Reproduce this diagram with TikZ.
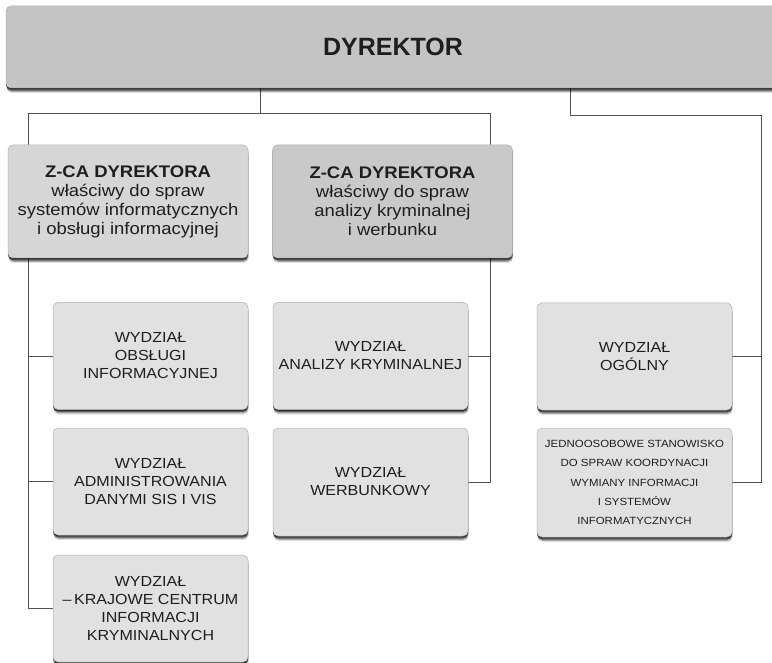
\documentclass[tikz,border=0pt]{standalone}
\usepackage{fontspec}
\setmainfont{Liberation Sans}
\newfontfamily\wf[FakeStretch=1.1]{Liberation Sans}
\usetikzlibrary{shadows,backgrounds}
\definecolor{dirfill}{HTML}{C4C4C4}
\definecolor{zafill}{HTML}{D6D6D6}
\definecolor{zbfill}{HTML}{C9C9C9}
\definecolor{wfill}{HTML}{E1E1E1}
\definecolor{bordc}{HTML}{B0B0B0}
\definecolor{linec}{HTML}{505050}
\definecolor{txt}{HTML}{1E1E1E}
\tikzset{
  box/.style={draw=bordc, rounded corners=5pt, line width=0.5pt, inner sep=0pt,
    align=center, text=txt,
    drop shadow={shadow xshift=0.6pt, shadow yshift=-5pt, opacity=0.12, fill=black},
    drop shadow={shadow xshift=0.4pt, shadow yshift=-3.8pt, opacity=0.25, fill=black},
    drop shadow={shadow xshift=0.2pt, shadow yshift=-2.6pt, opacity=0.45, fill=black},
    drop shadow={shadow xshift=0pt, shadow yshift=-1.4pt, opacity=0.5, fill=black}},
  dirbox/.style={box, fill=dirfill, minimum width=774pt, minimum height=82pt,
    font=\bfseries\fontsize{25}{28}\selectfont},
  zbox/.style={box, minimum width=240pt, minimum height=113pt,
    font=\wf\fontsize{16.8}{19}\selectfont},
  wbox/.style={box, fill=wfill, minimum width=195pt, minimum height=107pt,
    font=\wf\fontsize{14.6}{18}\selectfont},
  sbox/.style={box, fill=wfill, minimum width=195pt, minimum height=109pt,
    font=\wf\fontsize{10.4}{19.2}\selectfont},
  conn/.style={draw=linec, line width=0.9pt}
}
\begin{document}
\begin{tikzpicture}[x=1pt,y=-1pt]
\clip (0,0) rectangle (772,663);
\node[dirbox] (dir) at (393,47) {DYREKTOR};
\node[zbox, fill=zafill] (z1) at (128,201.5) {{\bfseries Z-CA DYREKTORA}\\właściwy do spraw\\systemów informatycznych\\i obsługi informacyjnej};
\node[zbox, fill=zbfill] (z2) at (392.5,201.5) {{\bfseries Z-CA DYREKTORA}\\właściwy do spraw\\analizy kryminalnej\\i werbunku};
\node[wbox] (o1) at (150.5,356) {WYDZIAŁ\\OBSŁUGI\\INFORMACYJNEJ};
\node[wbox] (a1) at (370.5,356) {WYDZIAŁ\\ANALIZY KRYMINALNEJ};
\node[wbox] (ad) at (150.5,481.5) {WYDZIAŁ\\ADMINISTROWANIA\\DANYMI SIS I VIS};
\node[wbox, minimum height=108pt] (wb) at (370.5,482) {WYDZIAŁ\\WERBUNKOWY};
\node[wbox] (kr) at (150.5,608.5) {WYDZIAŁ\\–\,KRAJOWE CENTRUM\\INFORMACJI\\KRYMINALNYCH};
\node[wbox] (og) at (634.5,356.5) {WYDZIAŁ\\OGÓLNY};
\node[sbox] (je) at (634.5,482.5) {JEDNOOSOBOWE STANOWISKO\\DO SPRAW KOORDYNACJI\\WYMIANY INFORMACJI\\I SYSTEMÓW\\INFORMATYCZNYCH};
\coordinate (b0) at (260,113);
\coordinate (bl) at (28,113);
\coordinate (br) at (490,113);
\coordinate (r1) at (570,115);
\coordinate (r2) at (761,115);
\begin{scope}[on background layer]
\draw[conn] (dir.south -| b0) -- (b0);
\draw[conn] (bl) -- (br);
\draw[conn] (bl) |- (kr.west);
\draw[conn] (o1.west) -- (o1.west -| bl);
\draw[conn] (ad.west) -- (ad.west -| bl);
\draw[conn] (br) |- (wb.east);
\draw[conn] (a1.east) -- (a1.east -| br);
\draw[conn] (dir.south -| r1) -- (r1) -- (r2) |- (je.east);
\draw[conn] (og.east) -- (og.east -| r2);
\end{scope}
\end{tikzpicture}
\end{document}
